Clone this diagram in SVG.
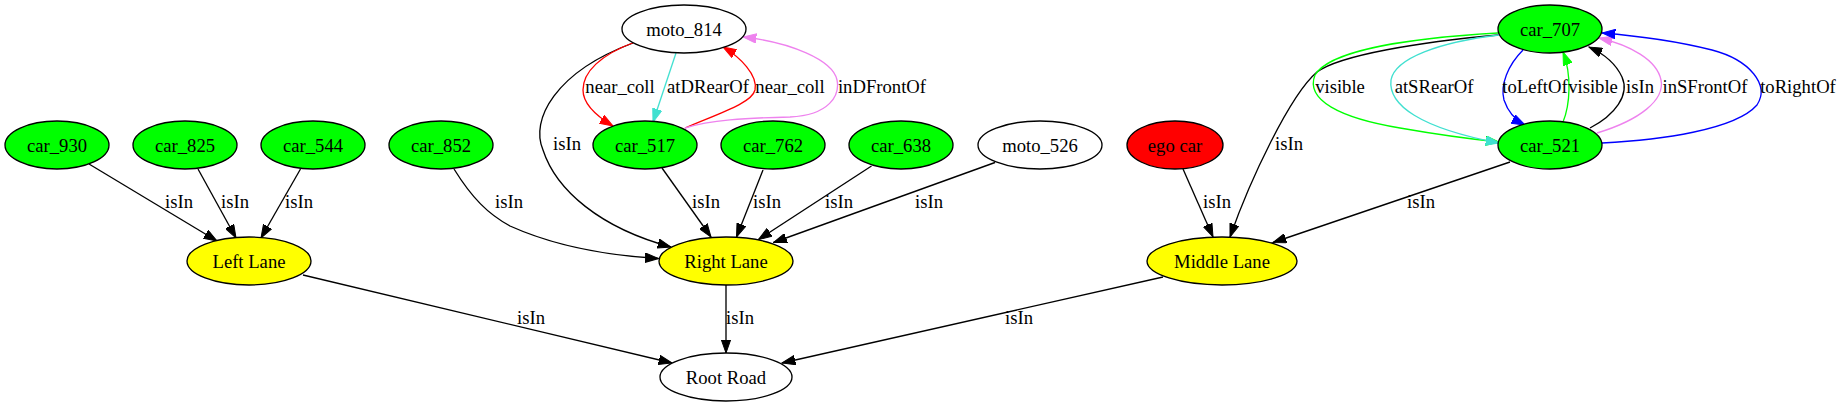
<svg xmlns="http://www.w3.org/2000/svg" width="1839" height="407" viewBox="0 0 1839 407">
<style>
text { font-family: "Liberation Serif", "Times New Roman", serif; font-size: 18.67px; text-anchor: middle; fill: #000; }
.node ellipse { stroke: #000; stroke-width: 1.33; }
.g { fill: #00ff00; }
.w { fill: #ffffff; }
.y { fill: #ffff00; }
.r { fill: #ff0000; }
#edges path { fill: none; stroke-width: 1.33; }
.k { stroke: #000000; }
.kr { stroke: #ff0000; }
.kc { stroke: #40e0d0; }
.kv { stroke: #ee82ee; }
.kg { stroke: #00ff00; }
.kb { stroke: #0000ff; }
</style>
<defs>
<marker id="ak" markerUnits="userSpaceOnUse" viewBox="0 0 14 10" markerWidth="14" markerHeight="10" refX="13.3" refY="5" orient="auto"><path d="M0,0.3 L13.3,5 L0,9.7 z" fill="#000000" stroke="#000000" stroke-width="1"/></marker>
<marker id="ar" markerUnits="userSpaceOnUse" viewBox="0 0 14 10" markerWidth="14" markerHeight="10" refX="13.3" refY="5" orient="auto"><path d="M0,0.3 L13.3,5 L0,9.7 z" fill="#ff0000" stroke="#ff0000" stroke-width="1"/></marker>
<marker id="ac" markerUnits="userSpaceOnUse" viewBox="0 0 14 10" markerWidth="14" markerHeight="10" refX="13.3" refY="5" orient="auto"><path d="M0,0.3 L13.3,5 L0,9.7 z" fill="#40e0d0" stroke="#40e0d0" stroke-width="1"/></marker>
<marker id="av" markerUnits="userSpaceOnUse" viewBox="0 0 14 10" markerWidth="14" markerHeight="10" refX="13.3" refY="5" orient="auto"><path d="M0,0.3 L13.3,5 L0,9.7 z" fill="#ee82ee" stroke="#ee82ee" stroke-width="1"/></marker>
<marker id="ag" markerUnits="userSpaceOnUse" viewBox="0 0 14 10" markerWidth="14" markerHeight="10" refX="13.3" refY="5" orient="auto"><path d="M0,0.3 L13.3,5 L0,9.7 z" fill="#00ff00" stroke="#00ff00" stroke-width="1"/></marker>
<marker id="ab" markerUnits="userSpaceOnUse" viewBox="0 0 14 10" markerWidth="14" markerHeight="10" refX="13.3" refY="5" orient="auto"><path d="M0,0.3 L13.3,5 L0,9.7 z" fill="#0000ff" stroke="#0000ff" stroke-width="1"/></marker>
</defs>
<rect x="0" y="0" width="1839" height="407" fill="#ffffff"/>
<g id="edges">
<path class="k" marker-end="url(#ak)" d="M89,164 L217,241"/>
<text x="179" y="208">isIn</text>
<path class="k" marker-end="url(#ak)" d="M198,169 L236,238"/>
<text x="235" y="208">isIn</text>
<path class="k" marker-end="url(#ak)" d="M300.5,169 L261,238"/>
<text x="299" y="208">isIn</text>
<path class="k" marker-end="url(#ak)" d="M454,169 C472,198 488,214 510,226 C550,244 600,255 658.5,258.5"/>
<text x="509" y="208">isIn</text>
<path class="k" marker-end="url(#ak)" d="M633,43 C555,72 530,120 543,150 C556,190 600,228 671,247"/>
<text x="567" y="150">isIn</text>
<path class="kr" marker-end="url(#ar)" d="M635,42 C600,55 583,72 583,90 C583,105 598,117 613,126"/>
<text x="620" y="93">near_coll</text>
<path class="kc" marker-end="url(#ac)" d="M676,53 L653,122"/>
<text x="708" y="93">atDRearOf</text>
<path class="kr" marker-end="url(#ar)" d="M685,128 C720,113 752,103 755,90 C758,75 740,57 723,47"/>
<text x="790" y="93">near_coll</text>
<path class="kv" marker-end="url(#av)" d="M685,128 C710,120 745,118 790,117 C830,115 840,95 837,80 C833,60 790,42 743,37"/>
<text x="882" y="93">inDFrontOf</text>
<path class="k" marker-end="url(#ak)" d="M662,168 L711,237"/>
<text x="706" y="208">isIn</text>
<path class="k" marker-end="url(#ak)" d="M763,170 L736.5,237"/>
<text x="767" y="208">isIn</text>
<path class="k" marker-end="url(#ak)" d="M871.5,166 L758.5,239.5"/>
<text x="839" y="208">isIn</text>
<path class="k" marker-end="url(#ak)" d="M995,162.5 L773.5,242.5"/>
<text x="929" y="208">isIn</text>
<path class="k" marker-end="url(#ak)" d="M726,285 L726,353"/>
<text x="740" y="324">isIn</text>
<path class="k" marker-end="url(#ak)" d="M303,275 L672,363"/>
<text x="531" y="324">isIn</text>
<path class="k" marker-end="url(#ak)" d="M1163,277 L782,363"/>
<text x="1019" y="324">isIn</text>
<path class="k" marker-end="url(#ak)" d="M1183,169 L1213,237"/>
<text x="1217" y="208">isIn</text>
<path class="k" marker-end="url(#ak)" d="M1498,35 C1420,42 1340,55 1317,72 C1290,95 1250,180 1230,237"/>
<text x="1289" y="150">isIn</text>
<path class="k" marker-end="url(#ak)" d="M1510,162 L1273,242.5"/>
<text x="1421" y="208">isIn</text>
<path class="kg" marker-end="url(#ag)" d="M1498,33 C1410,38 1330,50 1315,75 C1305,100 1340,118 1400,128 C1440,135 1470,139 1499,142"/>
<text x="1340" y="93">visible</text>
<path class="kc" marker-end="url(#ac)" d="M1499,35 C1440,42 1395,58 1391,80 C1388,105 1420,128 1499,143"/>
<text x="1434" y="93">atSRearOf</text>
<path class="kb" marker-end="url(#ab)" d="M1523,50 C1508,65 1500,85 1504,100 C1508,112 1515,120 1525,125"/>
<text x="1535" y="93">toLeftOf</text>
<path class="kg" marker-end="url(#ag)" d="M1563,122 C1570,105 1572,75 1563,52"/>
<text x="1593" y="93">visible</text>
<path class="k" marker-end="url(#ak)" d="M1590,128 C1615,115 1630,95 1622,77 C1615,62 1600,52 1589,47"/>
<text x="1640" y="93">isIn</text>
<path class="kv" marker-end="url(#av)" d="M1597,133 C1640,120 1665,100 1661,80 C1657,60 1630,45 1599,38"/>
<text x="1705" y="93">inSFrontOf</text>
<path class="kb" marker-end="url(#ab)" d="M1602,143 C1660,140 1735,130 1757,105 C1770,85 1750,60 1712,50 C1680,42 1640,36 1602,33"/>
<text x="1798" y="93">toRightOf</text>
</g>
<g id="car_930" class="node"><ellipse class="g" cx="57" cy="145" rx="52" ry="24"/><text x="57" y="151.5">car_930</text></g>
<g id="car_825" class="node"><ellipse class="g" cx="185" cy="145" rx="52" ry="24"/><text x="185" y="151.5">car_825</text></g>
<g id="car_544" class="node"><ellipse class="g" cx="313" cy="145" rx="52" ry="24"/><text x="313" y="151.5">car_544</text></g>
<g id="car_852" class="node"><ellipse class="g" cx="441" cy="145" rx="52" ry="24"/><text x="441" y="151.5">car_852</text></g>
<g id="moto_814" class="node"><ellipse class="w" cx="684" cy="29" rx="62" ry="24"/><text x="684" y="35.5">moto_814</text></g>
<g id="car_517" class="node"><ellipse class="g" cx="645" cy="145" rx="52" ry="24"/><text x="645" y="151.5">car_517</text></g>
<g id="car_762" class="node"><ellipse class="g" cx="773" cy="145" rx="52" ry="24"/><text x="773" y="151.5">car_762</text></g>
<g id="car_638" class="node"><ellipse class="g" cx="901" cy="145" rx="52" ry="24"/><text x="901" y="151.5">car_638</text></g>
<g id="moto_526" class="node"><ellipse class="w" cx="1040" cy="145" rx="62" ry="24"/><text x="1040" y="151.5">moto_526</text></g>
<g id="ego_car" class="node"><ellipse class="r" cx="1175" cy="145" rx="48" ry="24"/><text x="1175" y="151.5">ego car</text></g>
<g id="car_707" class="node"><ellipse class="g" cx="1550" cy="29" rx="52" ry="24"/><text x="1550" y="35.5">car_707</text></g>
<g id="car_521" class="node"><ellipse class="g" cx="1550" cy="145" rx="52" ry="24"/><text x="1550" y="151.5">car_521</text></g>
<g id="left_lane" class="node"><ellipse class="y" cx="249" cy="261" rx="62" ry="24"/><text x="249" y="267.5">Left Lane</text></g>
<g id="right_lane" class="node"><ellipse class="y" cx="726" cy="261" rx="67" ry="24"/><text x="726" y="267.5">Right Lane</text></g>
<g id="middle_lane" class="node"><ellipse class="y" cx="1222" cy="261" rx="75" ry="24"/><text x="1222" y="267.5">Middle Lane</text></g>
<g id="root_road" class="node"><ellipse class="w" cx="726" cy="377" rx="66" ry="24"/><text x="726" y="383.5">Root Road</text></g>
</svg>
